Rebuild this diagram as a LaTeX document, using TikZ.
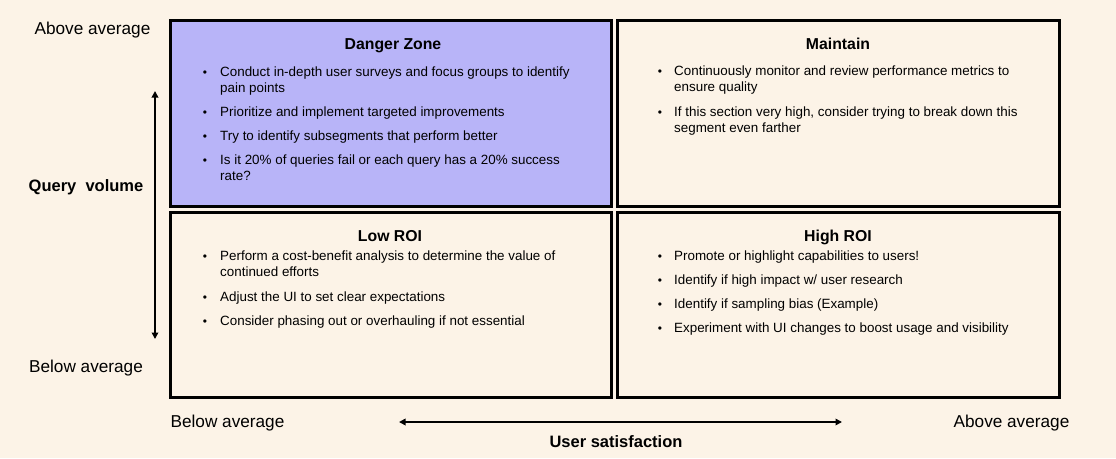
\documentclass[tikz,border=0pt]{standalone}
\usepackage{fontspec}
\setmainfont{Liberation Sans}
\usetikzlibrary{arrows.meta}
\definecolor{bgcol}{RGB}{252,243,231}
\definecolor{lav}{RGB}{184,180,248}
\tikzset{
  quad/.style={draw=black, line width=3pt, inner sep=0pt, fill=bgcol},
  qtitle/.style={anchor=base, inner sep=0pt, font=\fontsize{15.8}{18}\selectfont\bfseries},
  itm/.style={anchor=base west, inner sep=0pt, align=left, font=\fontsize{13.4}{16}\selectfont},
  bul/.style={anchor=base, inner sep=0pt, font=\fontsize{12}{16}\selectfont},
  axlab/.style={anchor=base, inner sep=0pt, font=\fontsize{17.2}{20}\selectfont},
  axtitle/.style={anchor=base, inner sep=0pt, font=\fontsize{16.5}{20}\selectfont\bfseries},
  axarrow/.style={line width=1.8pt, {Triangle[length=6.5pt,width=6.5pt]}-{Triangle[length=6.5pt,width=6.5pt]}}
}
\begin{document}
\begin{tikzpicture}[x=1pt,y=-1pt]
\fill[bgcol] (0,0) rectangle (1116,458);
\useasboundingbox (0,0) rectangle (1116,458);
% quadrants
\node[quad, fill=lav, minimum width=441pt, minimum height=186pt] (dz) at (390.5,113) {};
\node[quad, minimum width=442pt, minimum height=186pt] (mt) at (838,113) {};
\node[quad, minimum width=441pt, minimum height=185pt] (lr) at (390.5,304.5) {};
\node[quad, minimum width=442pt, minimum height=185pt] (hr) at (838,304.5) {};
% titles
\node[qtitle] (dzt) at (393,49.5) {Danger Zone};
\node[qtitle] (mtt) at (838,49.5) {Maintain};
\node[qtitle] (lrt) at (390,241) {Low ROI};
\node[qtitle] (hrt) at (838,241) {High ROI};
% Danger zone items (two-line nodes are anchored at the baseline of their last line)
\node[bul] (dzb1) at (205,76) {•};
\node[itm] (dzi1) at (220,92) {Conduct in-depth user surveys and focus groups to identify\\pain points};
\node[bul] (dzb2) at (205,116) {•};
\node[itm] (dzi2) at (220,116) {Prioritize and implement targeted improvements};
\node[bul] (dzb3) at (205,140) {•};
\node[itm] (dzi3) at (220,140) {Try to identify subsegments that perform better};
\node[bul] (dzb4) at (205,164.5) {•};
\node[itm] (dzi4) at (220,180.5) {Is it 20\% of queries fail or each query has a 20\% success\\rate?};
% Maintain items
\node[bul] (mtb1) at (660,75) {•};
\node[itm] (mti1) at (674,91) {Continuously monitor and review performance metrics to\\ensure quality};
\node[bul] (mtb2) at (660,116.5) {•};
\node[itm] (mti2) at (674,132.5) {If this section very high, consider trying to break down this\\segment even farther};
% Low ROI items
\node[bul] (lrb1) at (205,260) {•};
\node[itm] (lri1) at (220,276) {Perform a cost-benefit analysis to determine the value of\\continued efforts};
\node[bul] (lrb2) at (205,301) {•};
\node[itm] (lri2) at (220,301) {Adjust the UI to set clear expectations};
\node[bul] (lrb3) at (205,325) {•};
\node[itm] (lri3) at (220,325) {Consider phasing out or overhauling if not essential};
% High ROI items
\node[bul] (hrb1) at (660,260) {•};
\node[itm] (hri1) at (674,260) {Promote or highlight capabilities to users!};
\node[bul] (hrb2) at (660,284) {•};
\node[itm] (hri2) at (674,284) {Identify if high impact w/ user research};
\node[bul] (hrb3) at (660,308) {•};
\node[itm] (hri3) at (674,308) {Identify if sampling bias (Example)};
\node[bul] (hrb4) at (660,332) {•};
\node[itm] (hri4) at (674,332) {Experiment with UI changes to boost usage and visibility};
% axis labels
\node[axlab] (yhi) at (92.5,34) {Above average};
\node[axtitle] (ytitle) at (86,191) {Query\ \ volume};
\node[axlab] (ylo) at (86,372) {Below average};
\node[axlab] (xlo) at (227.5,427) {Below average};
\node[axlab] (xhi) at (1011.5,427) {Above average};
\node[axtitle] (xtitle) at (616,447) {User satisfaction};
% axis arrows
\coordinate (ytop) at (155,91);
\coordinate (ybot) at (155,339);
\coordinate (xleft) at (399,422);
\coordinate (xright) at (842,422);
\draw[axarrow] (ytop) -- (ybot);
\draw[axarrow] (xleft) -- (xright);
\end{tikzpicture}
\end{document}
